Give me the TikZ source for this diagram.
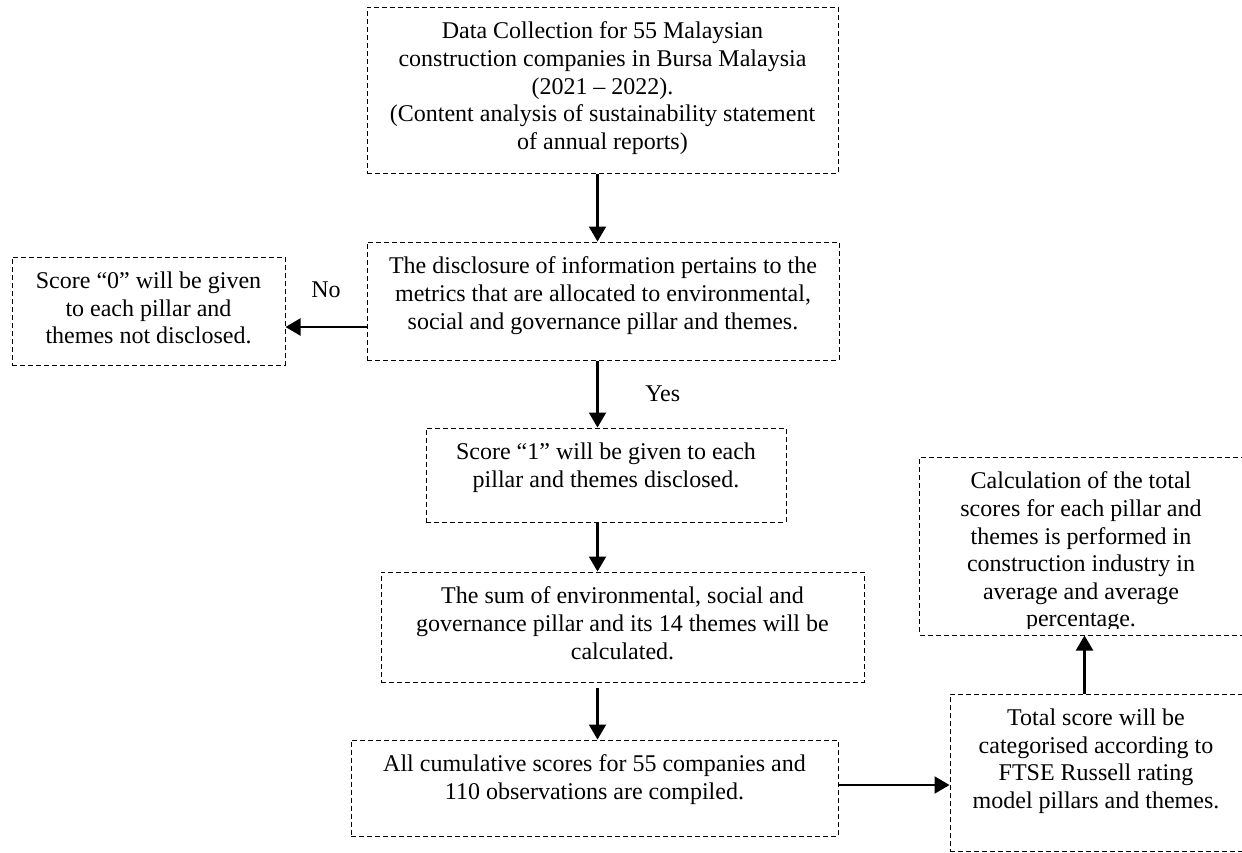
\documentclass[tikz,border=0pt]{standalone}
\usepackage{fontspec}
\setmainfont{Liberation Serif}
\usetikzlibrary{arrows.meta}

\begin{document}
\begin{tikzpicture}[x=0.5pt,y=-0.5pt,
  box/.style={draw, dash pattern=on 2.5pt off 1.5pt, line width=0.5pt, inner sep=0pt},
  txt/.style={align=center, inner sep=0pt, anchor=north, yshift=-7.5pt, font=\fontsize{12pt}{13.8pt}\selectfont},
  arr/.style={-{Triangle[length=7.5pt,width=8.5pt]}, line width=1.1pt},
  lbl/.style={font=\fontsize{12pt}{13.8pt}\selectfont}]
\useasboundingbox (0,0) rectangle (1242,852);
\clip (0,0) rectangle (1242,852);
\coordinate (spine) at (597.5,0);
\coordinate (noline) at (0,327);
\node[box, minimum width=235.5pt, minimum height=83pt] (data) at (602.5,90) {};
\node[box, minimum width=236pt, minimum height=59pt] (disc) at (603,301) {};
\node[box, minimum width=136.5pt, minimum height=54pt] (zero) at (148.5,311) {};
\node[box, minimum width=180pt, minimum height=47pt] (one) at (606,475) {};
\node[box, minimum width=241.5pt, minimum height=55pt] (sum) at (622.5,627) {};
\node[box, minimum width=243.5pt, minimum height=48pt] (all) at (594.5,788) {};
\node[box, minimum width=165pt, minimum height=89pt] (calc) at (1084.5,546) {};
\node[box, minimum width=150pt, minimum height=78.5pt] (total) at (1100,772.5) {};
\node[txt] (dataT) at (data.north) {Data Collection for 55 Malaysian\\construction companies in Bursa Malaysia\\(2021 – 2022).\\(Content analysis of sustainability statement\\of annual reports)};
\node[txt] (discT) at (disc.north) {The disclosure of information pertains to the\\metrics that are allocated to environmental,\\social and governance pillar and themes.};
\node[txt] (zeroT) at (zero.north) {Score “0” will be given\\to each pillar and\\themes not disclosed.};
\node[txt] (oneT) at (one.north) {Score “1” will be given to each\\pillar and themes disclosed.};
\node[txt] (sumT) at (sum.north) {The sum of environmental, social and\\governance pillar and its 14 themes will be\\calculated.};
\node[txt] (allT) at (all.north) {All cumulative scores for 55 companies and\\110 observations are compiled.};
\begin{scope}
\clip (calc.north west) rectangle ([yshift=3.5pt]calc.south east);
\node[txt] (calcT) at (calc.north -| 1081,0) {Calculation of the total\\scores for each pillar and\\themes is performed in\\construction industry in\\average and average\\percentage.};
\end{scope}
\node[txt] (totalT) at (total.north -| 1096,0) {Total score will be\\categorised according to\\FTSE Russell rating\\model pillars and themes.};
\draw[arr] (data.south -| spine) -- (disc.north -| spine);
\draw[arr] (disc.west |- noline) -- (zero.east |- noline) node[lbl, midway, above=11pt] {No};
\draw[arr] (disc.south -| spine) -- (one.north -| spine) node[lbl, midway, right=20pt] {Yes};
\draw[arr] (one.south -| spine) -- (sum.north -| spine);
\draw[arr] ([yshift=-2.5pt]sum.south -| spine) -- (all.north -| spine);
\draw[arr] ([yshift=1.5pt]all.east) -- ([yshift=1.5pt]total.west |- all.east);
\draw[arr] (total.north -| calc.south) -- (calc.south);
\end{tikzpicture}
\end{document}
